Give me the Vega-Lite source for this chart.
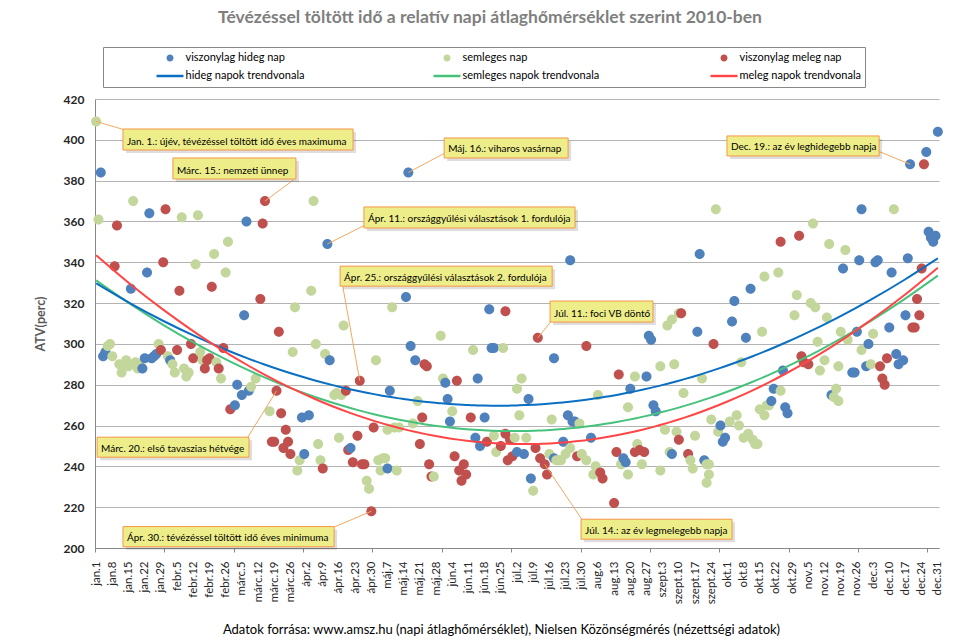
{
"$schema": "https://vega.github.io/schema/vega-lite/v6.json",
"width": 844, "height": 449,
"autosize": {"type": "none"},
"padding": {"left": 95, "top": 99, "right": 40, "bottom": 92},
"background": "white",
"config": {"view": {"stroke": null}},
"title": {"text": "Tévézéssel töltött idő a relatív napi átlaghőmérséklet szerint 2010-ben", "font": "Lato", "fontSize": 17.5, "fontWeight": "bold", "color": "#7f7f7f", "anchor": "middle", "dx": -27, "offset": 20},
"resolve": {"axis": {"x": "independent"}},
"datasets": {
"napok": [
{"d":1,"v":409,"k":"s"},{"d":2,"v":361,"k":"s"},{"d":3,"v":384,"k":"h"},{"d":4,"v":294,"k":"h"},{"d":5,"v":296,"k":"h"},{"d":6,"v":299,"k":"s"},{"d":7,"v":300,"k":"s"},{"d":8,"v":294,"k":"s"},{"d":9,"v":338,"k":"m"},{"d":10,"v":358,"k":"m"},{"d":11,"v":290,"k":"s"},{"d":12,"v":286,"k":"s"},{"d":13,"v":289,"k":"s"},{"d":14,"v":292,"k":"s"},{"d":15,"v":289,"k":"s"},{"d":16,"v":327,"k":"h"},{"d":17,"v":370,"k":"s"},{"d":18,"v":291,"k":"s"},{"d":19,"v":288,"k":"s"},{"d":20,"v":289,"k":"s"},{"d":21,"v":288,"k":"h"},{"d":22,"v":293,"k":"h"},{"d":23,"v":335,"k":"h"},{"d":24,"v":364,"k":"h"},{"d":25,"v":293,"k":"h"},{"d":26,"v":294,"k":"h"},{"d":27,"v":295,"k":"h"},{"d":28,"v":300,"k":"s"},{"d":29,"v":297,"k":"m"},{"d":30,"v":340,"k":"m"},{"d":31,"v":366,"k":"m"},
{"d":32,"v":294,"k":"s"},{"d":33,"v":292,"k":"h"},{"d":34,"v":290,"k":"s"},{"d":35,"v":286,"k":"s"},{"d":36,"v":297,"k":"m"},{"d":37,"v":326,"k":"m"},{"d":38,"v":362,"k":"s"},{"d":39,"v":288,"k":"s"},{"d":40,"v":284,"k":"s"},{"d":41,"v":286,"k":"s"},{"d":42,"v":300,"k":"m"},{"d":43,"v":293,"k":"m"},{"d":44,"v":339,"k":"s"},{"d":45,"v":363,"k":"s"},{"d":46,"v":296,"k":"s"},{"d":47,"v":292,"k":"s"},{"d":48,"v":288,"k":"m"},{"d":49,"v":292,"k":"m"},{"d":50,"v":293,"k":"m"},{"d":51,"v":328,"k":"m"},{"d":52,"v":344,"k":"s"},{"d":53,"v":291,"k":"s"},{"d":54,"v":288,"k":"m"},{"d":55,"v":283,"k":"s"},{"d":56,"v":298,"k":"m"},{"d":57,"v":335,"k":"s"},{"d":58,"v":350,"k":"s"},{"d":59,"v":268,"k":"m"},
{"d":61,"v":270,"k":"h"},{"d":62,"v":280,"k":"h"},{"d":64,"v":275,"k":"h"},{"d":65,"v":314,"k":"h"},{"d":66,"v":360,"k":"h"},{"d":67,"v":277,"k":"h"},{"d":68,"v":279,"k":"s"},{"d":70,"v":283,"k":"s"},{"d":72,"v":322,"k":"m"},{"d":73,"v":359,"k":"m"},{"d":74,"v":370,"k":"m"},{"d":76,"v":267,"k":"s"},{"d":77,"v":252,"k":"m"},{"d":78,"v":252,"k":"m"},{"d":79,"v":277,"k":"m"},{"d":80,"v":306,"k":"m"},{"d":81,"v":266,"k":"m"},{"d":82,"v":249,"k":"m"},{"d":83,"v":258,"k":"m"},{"d":84,"v":252,"k":"m"},{"d":85,"v":246,"k":"m"},{"d":86,"v":296,"k":"s"},{"d":87,"v":318,"k":"s"},{"d":88,"v":238,"k":"s"},{"d":89,"v":243,"k":"s"},{"d":90,"v":264,"k":"h"},
{"d":91,"v":246,"k":"h"},{"d":93,"v":265,"k":"h"},{"d":94,"v":326,"k":"s"},{"d":95,"v":370,"k":"s"},{"d":96,"v":300,"k":"s"},{"d":97,"v":251,"k":"s"},{"d":98,"v":243,"k":"s"},{"d":99,"v":239,"k":"m"},{"d":100,"v":295,"k":"s"},{"d":101,"v":349,"k":"h"},{"d":102,"v":292,"k":"h"},{"d":104,"v":275,"k":"s"},{"d":105,"v":276,"k":"s"},{"d":106,"v":254,"k":"s"},{"d":107,"v":275,"k":"s"},{"d":108,"v":309,"k":"s"},{"d":109,"v":277,"k":"m"},{"d":110,"v":248,"k":"m"},{"d":111,"v":249,"k":"h"},{"d":112,"v":242,"k":"m"},{"d":114,"v":255,"k":"m"},{"d":115,"v":282,"k":"m"},{"d":116,"v":241,"k":"m"},{"d":117,"v":241,"k":"m"},{"d":118,"v":233,"k":"s"},{"d":119,"v":229,"k":"s"},{"d":120,"v":218,"k":"m"},
{"d":121,"v":259,"k":"m"},{"d":122,"v":292,"k":"s"},{"d":123,"v":243,"k":"s"},{"d":124,"v":238,"k":"s"},{"d":125,"v":244,"k":"s"},{"d":126,"v":244,"k":"s"},{"d":127,"v":258,"k":"s"},{"d":127,"v":239,"k":"h"},{"d":128,"v":277,"k":"h"},{"d":129,"v":318,"k":"s"},{"d":130,"v":259,"k":"s"},{"d":131,"v":238,"k":"s"},{"d":132,"v":259,"k":"s"},{"d":135,"v":323,"k":"h"},{"d":136,"v":384,"k":"h"},{"d":137,"v":299,"k":"h"},{"d":138,"v":261,"k":"s"},{"d":139,"v":292,"k":"h"},{"d":140,"v":272,"k":"s"},{"d":141,"v":251,"k":"m"},{"d":142,"v":264,"k":"m"},{"d":143,"v":290,"k":"m"},{"d":144,"v":289,"k":"m"},{"d":145,"v":241,"k":"m"},{"d":146,"v":235,"k":"m"},{"d":147,"v":235,"k":"s"},{"d":150,"v":304,"k":"s"},{"d":151,"v":283,"k":"s"},
{"d":152,"v":281,"k":"h"},{"d":153,"v":273,"k":"h"},{"d":154,"v":262,"k":"h"},{"d":155,"v":267,"k":"s"},{"d":156,"v":245,"k":"m"},{"d":157,"v":282,"k":"m"},{"d":158,"v":238,"k":"m"},{"d":159,"v":233,"k":"m"},{"d":160,"v":241,"k":"m"},{"d":161,"v":236,"k":"m"},{"d":163,"v":264,"k":"m"},{"d":164,"v":297,"k":"s"},{"d":165,"v":254,"k":"h"},{"d":166,"v":283,"k":"h"},{"d":167,"v":250,"k":"h"},{"d":169,"v":264,"k":"h"},{"d":170,"v":252,"k":"m"},{"d":171,"v":317,"k":"h"},{"d":172,"v":298,"k":"h"},{"d":173,"v":298,"k":"h"},{"d":173,"v":255,"k":"s"},{"d":174,"v":247,"k":"s"},{"d":176,"v":250,"k":"m"},{"d":177,"v":298,"k":"s"},{"d":178,"v":316,"k":"m"},{"d":178,"v":256,"k":"m"},{"d":179,"v":243,"k":"m"},{"d":180,"v":253,"k":"m"},{"d":181,"v":245,"k":"m"},
{"d":182,"v":254,"k":"s"},{"d":183,"v":247,"k":"h"},{"d":183,"v":278,"k":"s"},{"d":184,"v":265,"k":"s"},{"d":185,"v":283,"k":"s"},{"d":186,"v":246,"k":"h"},{"d":187,"v":254,"k":"s"},{"d":188,"v":273,"k":"h"},{"d":189,"v":234,"k":"h"},{"d":190,"v":228,"k":"s"},{"d":191,"v":249,"k":"m"},{"d":192,"v":303,"k":"m"},{"d":193,"v":244,"k":"m"},{"d":195,"v":241,"k":"m"},{"d":196,"v":236,"k":"m"},{"d":197,"v":246,"k":"s"},{"d":198,"v":263,"k":"s"},{"d":199,"v":293,"k":"h"},{"d":199,"v":244,"k":"h"},{"d":200,"v":243,"k":"s"},{"d":201,"v":243,"k":"s"},{"d":202,"v":243,"k":"s"},{"d":203,"v":252,"k":"h"},{"d":204,"v":246,"k":"s"},{"d":205,"v":265,"k":"h"},{"d":206,"v":341,"k":"h"},{"d":206,"v":249,"k":"s"},{"d":207,"v":262,"k":"h"},{"d":208,"v":262,"k":"h"},{"d":209,"v":245,"k":"m"},{"d":210,"v":261,"k":"s"},{"d":211,"v":246,"k":"s"},{"d":213,"v":299,"k":"m"},{"d":213,"v":243,"k":"s"},
{"d":215,"v":254,"k":"h"},{"d":216,"v":236,"k":"s"},{"d":217,"v":240,"k":"s"},{"d":218,"v":275,"k":"s"},{"d":219,"v":237,"k":"m"},{"d":220,"v":234,"k":"m"},{"d":225,"v":222,"k":"m"},{"d":226,"v":247,"k":"m"},{"d":227,"v":285,"k":"m"},{"d":228,"v":241,"k":"s"},{"d":229,"v":244,"k":"h"},{"d":230,"v":242,"k":"h"},{"d":231,"v":236,"k":"s"},{"d":231,"v":269,"k":"s"},{"d":232,"v":278,"k":"h"},{"d":234,"v":284,"k":"s"},{"d":234,"v":247,"k":"m"},{"d":235,"v":251,"k":"s"},{"d":236,"v":248,"k":"m"},{"d":237,"v":241,"k":"s"},{"d":238,"v":247,"k":"m"},{"d":239,"v":284,"k":"h"},{"d":240,"v":304,"k":"h"},{"d":241,"v":302,"k":"h"},{"d":242,"v":270,"k":"h"},{"d":243,"v":267,"k":"h"},
{"d":245,"v":289,"k":"s"},{"d":245,"v":238,"k":"s"},{"d":247,"v":258,"k":"s"},{"d":248,"v":309,"k":"s"},{"d":249,"v":247,"k":"s"},{"d":250,"v":312,"k":"s"},{"d":250,"v":246,"k":"h"},{"d":251,"v":290,"k":"s"},{"d":252,"v":257,"k":"s"},{"d":253,"v":253,"k":"m"},{"d":253,"v":315,"k":"s"},{"d":254,"v":315,"k":"m"},{"d":255,"v":276,"k":"s"},{"d":257,"v":246,"k":"m"},{"d":258,"v":243,"k":"s"},{"d":259,"v":239,"k":"s"},{"d":260,"v":255,"k":"s"},{"d":261,"v":306,"k":"h"},{"d":262,"v":344,"k":"h"},{"d":263,"v":283,"k":"s"},{"d":264,"v":243,"k":"h"},{"d":265,"v":241,"k":"s"},{"d":265,"v":232,"k":"s"},{"d":266,"v":241,"k":"s"},{"d":266,"v":236,"k":"s"},{"d":267,"v":263,"k":"s"},{"d":268,"v":300,"k":"m"},{"d":269,"v":366,"k":"s"},{"d":270,"v":257,"k":"s"},{"d":271,"v":260,"k":"h"},{"d":272,"v":252,"k":"h"},{"d":273,"v":254,"k":"h"},
{"d":275,"v":262,"k":"s"},{"d":276,"v":311,"k":"h"},{"d":277,"v":321,"k":"h"},{"d":278,"v":265,"k":"s"},{"d":279,"v":260,"k":"s"},{"d":280,"v":291,"k":"s"},{"d":281,"v":254,"k":"s"},{"d":282,"v":303,"k":"h"},{"d":283,"v":256,"k":"s"},{"d":284,"v":327,"k":"h"},{"d":285,"v":253,"k":"s"},{"d":286,"v":251,"k":"s"},{"d":287,"v":251,"k":"s"},{"d":288,"v":268,"k":"s"},{"d":289,"v":306,"k":"s"},{"d":290,"v":265,"k":"s"},{"d":290,"v":333,"k":"s"},{"d":291,"v":270,"k":"s"},{"d":292,"v":270,"k":"s"},{"d":293,"v":272,"k":"h"},{"d":294,"v":278,"k":"h"},{"d":296,"v":335,"k":"s"},{"d":297,"v":277,"k":"s"},{"d":297,"v":350,"k":"m"},{"d":298,"v":287,"k":"h"},{"d":299,"v":269,"k":"h"},{"d":300,"v":266,"k":"h"},{"d":303,"v":314,"k":"s"},{"d":304,"v":324,"k":"s"},
{"d":305,"v":353,"k":"m"},{"d":306,"v":294,"k":"m"},{"d":307,"v":291,"k":"m"},{"d":309,"v":290,"k":"m"},{"d":310,"v":320,"k":"s"},{"d":311,"v":359,"k":"s"},{"d":312,"v":318,"k":"s"},{"d":313,"v":301,"k":"s"},{"d":314,"v":287,"k":"s"},{"d":316,"v":292,"k":"s"},{"d":317,"v":313,"k":"s"},{"d":318,"v":349,"k":"s"},{"d":319,"v":275,"k":"h"},{"d":320,"v":274,"k":"s"},{"d":321,"v":278,"k":"s"},{"d":322,"v":289,"k":"s"},{"d":322,"v":272,"k":"s"},{"d":323,"v":306,"k":"s"},{"d":324,"v":337,"k":"h"},{"d":325,"v":346,"k":"s"},{"d":326,"v":302,"k":"s"},{"d":328,"v":286,"k":"h"},{"d":329,"v":286,"k":"h"},{"d":330,"v":306,"k":"h"},{"d":331,"v":341,"k":"h"},{"d":332,"v":366,"k":"h"},{"d":332,"v":297,"k":"s"},{"d":334,"v":289,"k":"h"},
{"d":335,"v":300,"k":"h"},{"d":336,"v":290,"k":"s"},{"d":337,"v":305,"k":"s"},{"d":338,"v":340,"k":"h"},{"d":339,"v":341,"k":"h"},{"d":340,"v":289,"k":"m"},{"d":341,"v":283,"k":"m"},{"d":342,"v":280,"k":"m"},{"d":343,"v":293,"k":"m"},{"d":344,"v":308,"k":"h"},{"d":345,"v":335,"k":"h"},{"d":346,"v":366,"k":"s"},{"d":347,"v":295,"k":"h"},{"d":348,"v":290,"k":"h"},{"d":350,"v":292,"k":"h"},{"d":351,"v":314,"k":"h"},{"d":352,"v":342,"k":"h"},{"d":353,"v":388,"k":"h"},{"d":354,"v":308,"k":"m"},{"d":355,"v":308,"k":"m"},{"d":356,"v":322,"k":"m"},{"d":357,"v":314,"k":"m"},{"d":358,"v":337,"k":"m"},{"d":359,"v":388,"k":"m"},{"d":360,"v":394,"k":"h"},{"d":361,"v":355,"k":"h"},{"d":362,"v":352,"k":"h"},{"d":363,"v":350,"k":"h"},{"d":364,"v":353,"k":"h"},{"d":365,"v":404,"k":"h"}
],
"cimkek": [
{"t":"Jan. 1.: újév, tévézéssel töltött idő éves maximuma","x1":12.6,"x2":112.1,"y1":395,"y2":405.3,"lx":12.7,"ly":405.1,"px":1,"py":409},
{"t":"Márc. 15.: nemzeti ünnep","x1":34.2,"x2":87.4,"y1":380.8,"y2":391.1,"lx":86.3,"ly":380.3,"px":74,"py":370},
{"t":"Máj. 16.: viharos vasárnap","x1":151.5,"x2":205.1,"y1":391.1,"y2":400.9,"lx":151.6,"ly":393.4,"px":136,"py":384},
{"t":"Ápr. 11.: országgyűlési választások 1. fordulója","x1":116.8,"x2":208.1,"y1":356.8,"y2":367.1,"lx":117.3,"ly":358.2,"px":101,"py":349},
{"t":"Ápr. 25.: országgyűlési választások 2. fordulója","x1":106.5,"x2":198.2,"y1":328.3,"y2":338.1,"lx":107.6,"ly":328.5,"px":115,"py":282},
{"t":"Júl. 11.: foci VB döntő","x1":197.3,"x2":241.8,"y1":310.7,"y2":321,"lx":197.6,"ly":310.8,"px":192,"py":303},
{"t":"Márc. 20.: első tavaszias hétvége","x1":1.4,"x2":67.1,"y1":244.5,"y2":254.3,"lx":66.4,"ly":254,"px":79,"py":277},
{"t":"Ápr. 30.: tévézéssel töltött idő éves minimuma","x1":12.6,"x2":103.9,"y1":200.6,"y2":210.5,"lx":104,"ly":210.3,"px":120,"py":218},
{"t":"Júl. 14.: az év legmelegebb napja","x1":210.7,"x2":276,"y1":204.3,"y2":214.1,"lx":211,"ly":214.1,"px":195,"py":241},
{"t":"Dec. 19.: az év leghidegebb napja","x1":273.8,"x2":339.6,"y1":392.1,"y2":401.9,"lx":339.7,"ly":394.2,"px":353,"py":388}
]
},
"layer": [
{
"data": {"name": "napok"},
"mark": {"type": "point", "filled": true, "size": 1480, "opacity": 1, "strokeWidth": 0},
"encoding": {
"x": {"field": "d", "type": "quantitative", "scale": {"domain": [0.5, 365.5], "nice": false, "zero": false},
"axis": {"orient": "bottom", "values": [1,8,15,22,29,36,43,50,57,64,71,78,85,92,99,106,113,120,127,134,141,148,155,162,169,176,183,190,197,204,211,218,225,232,239,246,253,260,267,274,281,288,295,302,309,316,323,330,337,344,351,358,365],
"labelExpr": "['jan.','febr.','márc.','ápr.','máj.','jún.','júl.','aug.','szept.','okt.','nov.','dec.'][month(datetime(2010,0,datum.value))] + date(datetime(2010,0,datum.value))",
"labelAngle": -90, "labelFont": "Lato", "labelFontSize": 11.5, "labelColor": "#262626", "labelPadding": 13, "labelOverlap": false, "labelSeparation": 0, "labelBound": false, "labelFlush": false,
"ticks": false, "tickSize": 0, "domainColor": "#888888", "grid": false,
"title": "Adatok forrása: www.amsz.hu (napi átlaghőmérséklet), Nielsen Közönségmérés (nézettségi adatok)",
"titleFont": "Lato", "titleFontSize": 13, "titleFontWeight": "normal", "titleColor": "#000000", "titlePadding": 20, "titleX": 406}},
"y": {"field": "v", "type": "quantitative", "scale": {"domain": [200, 420], "nice": false, "zero": false},
"axis": {"values": [200,220,240,260,280,300,320,340,360,380,400,420], "grid": true, "gridColor": "#b3b3b3", "ticks": false, "tickSize": 0, "domainColor": "#888888",
"labelFont": "Lato", "labelFontSize": 12, "labelFontWeight": "bold", "labelColor": "#262626", "labelPadding": 11,
"title": "ATV(perc)", "titleFont": "Lato", "titleFontSize": 12.5, "titleFontWeight": "bold", "titleColor": "#595959", "titlePadding": 16}},
"color": {"field": "k", "type": "nominal",
"scale": {"domain": ["h","s","m","th","ts","tm"], "range": ["#4f81bd","#c3d69b","#c0504d","#0a6fc2","#46c27c","#ff4545"]},
"legend": {"orient": "none", "legendX": 8, "legendY": -52, "direction": "horizontal", "columns": 3, "title": null, "symbolSize": 729, "symbolStrokeWidth": 0, "symbolOffset": 49.5, "labelOffset": 2, "clipHeight": 14, "rowPadding": 4, "columnPadding": 61, "gridAlign": "all", "padding": 4, "strokeColor": "#888888", "labelFont": "Lato", "labelFontSize": 11, "labelColor": "#000000",
"labelExpr": "datum.label == 'h' ? 'viszonylag hideg nap' : datum.label == 's' ? 'semleges nap' : datum.label == 'm' ? 'viszonylag meleg nap' : datum.label == 'th' ? 'hideg napok trendvonala' : datum.label == 'ts' ? 'semleges napok trendvonala' : 'meleg napok trendvonala'"}},
"shape": {"field": "k", "type": "nominal",
"scale": {"domain": ["h","s","m","th","ts","tm"], "range": ["M-0.26,0A0.26,0.26,0,1,0,0.26,0A0.26,0.26,0,1,0,-0.26,0Z","M-0.26,0A0.26,0.26,0,1,0,0.26,0A0.26,0.26,0,1,0,-0.26,0Z","M-0.26,0A0.26,0.26,0,1,0,0.26,0A0.26,0.26,0,1,0,-0.26,0Z","M-1,-0.09L1,-0.09L1,0.09L-1,0.09Z","M-1,-0.09L1,-0.09L1,0.09L-1,0.09Z","M-1,-0.09L1,-0.09L1,0.09L-1,0.09Z"]},
"legend": {"orient": "none", "legendX": 8, "legendY": -52, "direction": "horizontal", "columns": 3, "title": null, "symbolSize": 729, "symbolStrokeWidth": 0, "symbolOffset": 49.5, "labelOffset": 2, "clipHeight": 14, "rowPadding": 4, "columnPadding": 61, "gridAlign": "all", "padding": 4, "strokeColor": "#888888", "labelFont": "Lato", "labelFontSize": 11, "labelColor": "#000000",
"labelExpr": "datum.label == 'h' ? 'viszonylag hideg nap' : datum.label == 's' ? 'semleges nap' : datum.label == 'm' ? 'viszonylag meleg nap' : datum.label == 'th' ? 'hideg napok trendvonala' : datum.label == 'ts' ? 'semleges napok trendvonala' : 'meleg napok trendvonala'"}}
}
},
{
"data": {"name": "napok"},
"transform": [{"regression": "v", "on": "d", "groupby": ["k"], "method": "poly", "order": 2, "extent": [1, 365]}],
"mark": {"type": "line", "strokeWidth": 2, "interpolate": "monotone"},
"encoding": {
"x": {"field": "d", "type": "quantitative",
"axis": {"orient": "bottom", "values": [0.5,30.5,60.5,90.5,120.5,150.5,180.5,210.5,240.5,270.5,300.5,330.5,360.5], "labels": false, "domain": false, "ticks": true, "tickSize": 4, "tickColor": "#888888", "grid": false, "title": null}},
"y": {"field": "v", "type": "quantitative"},
"stroke": {"field": "k", "type": "nominal", "scale": {"domain": ["h","s","m"], "range": ["#0a6fc2","#46c27c","#ff4545"]}, "legend": null}
}
},
{
"data": {"name": "cimkek"},
"mark": {"type": "rule", "color": "#f5a862", "strokeWidth": 1},
"encoding": {
"x": {"field": "lx", "type": "quantitative", "axis": null},
"y": {"field": "ly", "type": "quantitative"},
"x2": {"field": "px"},
"y2": {"field": "py"}
}
},
{
"data": {"name": "cimkek"},
"mark": {"type": "rect", "fill": "#000000", "opacity": 0.13, "xOffset": 3, "x2Offset": 3, "yOffset": 3, "y2Offset": 3},
"encoding": {
"x": {"field": "x1", "type": "quantitative", "axis": null},
"x2": {"field": "x2"},
"y": {"field": "y1", "type": "quantitative"},
"y2": {"field": "y2"}
}
},
{
"data": {"name": "cimkek"},
"mark": {"type": "rect", "fill": "#eded8a", "stroke": "#f79646", "strokeWidth": 1},
"encoding": {
"x": {"field": "x1", "type": "quantitative", "axis": null},
"x2": {"field": "x2"},
"y": {"field": "y1", "type": "quantitative"},
"y2": {"field": "y2"}
}
},
{
"data": {"name": "cimkek"},
"mark": {"type": "text", "align": "left", "baseline": "alphabetic", "dx": 4, "dy": -5.5, "font": "Lato", "fontSize": 10, "color": "#000000"},
"encoding": {
"x": {"field": "x1", "type": "quantitative", "axis": null},
"y": {"field": "y1", "type": "quantitative"},
"text": {"field": "t"}
}
}
]
}
